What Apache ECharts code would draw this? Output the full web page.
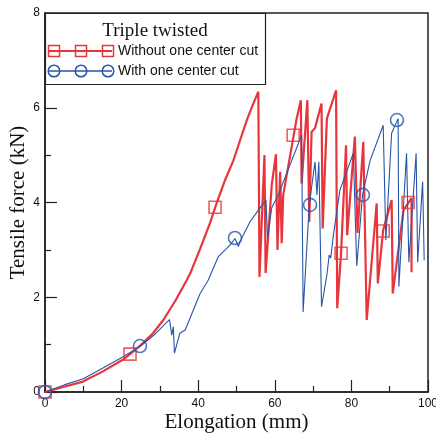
<!DOCTYPE html>
<html>
<head>
<meta charset="utf-8">
<script src="https://cdn.jsdelivr.net/npm/echarts@6/dist/echarts.min.js"></script>
<style>html,body{margin:0;padding:0;background:#fff}#c{width:436px;height:434px}</style>
</head>
<body>
<div id="c"></div>
<script>
// ---- data ----
const xTicks = [0, 20, 40, 60, 80, 100];
const yTicks = [0, 2, 4, 6, 8];

const redElong = [0, 5.0, 9.9, 15.0, 20.3, 22.2, 25.0, 28.2, 30.9, 34.0, 37.0, 37.9, 40.5, 43.1, 44.8, 47.0, 49.2, 51.0, 52.7, 54.2, 55.7,
  56.0, 57.3, 57.6, 59.2, 60.3, 60.7, 61.4, 61.8, 62.2, 65.7, 66.8, 67.0, 68.5, 69.0, 69.6, 70.5,
  72.2, 72.5, 73.6, 76.0, 76.3, 77.3, 78.6, 78.9, 80.9, 81.6, 83.1, 84.0, 86.6, 86.9, 88.3, 90.5,
  90.8, 93.6, 95.7, 95.7];
const redForce = [0, 0.11, 0.22, 0.43, 0.68, 0.80, 0.99, 1.24, 1.52, 1.92, 2.36, 2.50, 3.02, 3.57, 3.98, 4.47, 4.89, 5.33, 5.74, 6.05, 6.34,
  2.43, 5.00, 2.51, 4.37, 5.02, 3.00, 4.65, 3.14, 4.16, 5.77, 6.16, 4.40, 6.16, 3.59, 5.49, 5.57,
  6.09, 3.45, 5.77, 6.37, 1.77, 2.93, 5.21, 3.31, 5.39, 3.36, 5.28, 1.52, 3.98, 2.29, 3.42, 4.05,
  2.08, 3.84, 4.09, 2.53];

const blueElong = [0, 5.0, 10.0, 15.0, 20.3, 24.8, 28.7, 32.5, 33.1, 33.5, 33.8, 35.2, 36.6, 40.5, 42.6, 45.2,
  48.3, 49.6, 50.5, 50.9, 53.5, 56.1, 57.7, 58.1, 59.2, 60.9, 67.0, 67.4, 69.0, 70.5, 71.0, 71.5,
  72.2, 73.6, 74.2, 74.6, 75.3, 77.0, 80.5, 80.9, 81.4, 82.9, 84.9, 88.3, 89.0, 90.5, 92.2, 92.4,
  94.4, 95.0, 96.9, 97.3, 98.6, 99.0];
const blueForce = [0, 0.15, 0.28, 0.50, 0.74, 0.96, 1.22, 1.53, 1.20, 1.38, 0.82, 1.24, 1.31, 2.08, 2.36, 2.85,
  3.10, 3.24, 3.07, 3.17, 3.59, 3.88, 4.05, 3.24, 3.89, 4.16, 5.42, 1.69, 3.95, 4.86, 4.16, 4.86,
  1.80, 2.47, 2.89, 2.83, 3.31, 4.26, 5.04, 5.07, 2.66, 4.16, 4.89, 5.63, 3.21, 5.46, 5.77, 2.22,
  5.04, 2.74, 5.04, 2.74, 4.44, 2.78];

const redMarkElong = [0, 22.2, 44.4, 64.8, 77.3, 88.3, 94.8];
const redMarkForce = [0, 0.80, 3.90, 5.42, 2.93, 3.40, 4.00];
const blueMarkElong = [0, 24.8, 49.6, 69.2, 83.0, 91.9];
const blueMarkForce = [0, 0.97, 3.25, 3.95, 4.16, 5.74];

const seriesNames = ['Without one center cut', 'With one center cut'];
const legendTitle = 'Triple twisted';

// ---- styles ----
const RED = '#e8353c';
const BLUE = '#2656a8';
const zip = (a, b) => a.map((v, i) => [v, b[i]]);

const chart = echarts.init(document.getElementById('c'), null, {renderer: 'canvas'});
const axisCommon = {
  axisLine: {show: true, lineStyle: {color: '#222', width: 1.5}},
  axisTick: {show: true, inside: true, length: 12, lineStyle: {color: '#222', width: 1.2}},
  minorTick: {show: true, splitNumber: 2, length: 6, lineStyle: {color: '#222', width: 1.2}},
  splitLine: {show: false},
  minorSplitLine: {show: false},
  axisLabel: {color: '#111', fontFamily: 'Liberation Sans', fontSize: 12},
  nameLocation: 'middle',
  nameMoveOverlap: false,
  nameTextStyle: {fontFamily: 'Liberation Serif', fontSize: 21, color: '#111'}
};

const lx = 45, ly = 13;
chart.setOption({
  animation: false,
  backgroundColor: '#fff',
  grid: {left: 45, right: 8, top: 13, bottom: 42, show: true, borderColor: '#222', borderWidth: 1.5,
    containLabel: false, outerBoundsMode: 'none'},
  xAxis: Object.assign({}, axisCommon, {
    type: 'value', min: xTicks[0], max: xTicks[xTicks.length - 1], interval: xTicks[1] - xTicks[0],
    name: 'Elongation (mm)', nameGap: 20,
    axisLabel: Object.assign({}, axisCommon.axisLabel, {margin: 6})
  }),
  yAxis: Object.assign({}, axisCommon, {
    type: 'value', min: yTicks[0], max: yTicks[yTicks.length - 1], interval: yTicks[1] - yTicks[0],
    name: 'Tensile force (kN)', nameGap: 16,
    axisLabel: Object.assign({}, axisCommon.axisLabel, {margin: 5})
  }),
  series: [
    {name: seriesNames[0], type: 'line', data: zip(redElong, redForce), showSymbol: false, symbol: 'none',
      lineStyle: {color: RED, width: 2.2}, itemStyle: {color: RED}, z: 2},
    {name: seriesNames[1], type: 'line', data: zip(blueElong, blueForce), showSymbol: false, symbol: 'none',
      lineStyle: {color: BLUE, width: 1.1}, itemStyle: {color: BLUE}, z: 3},
    {name: seriesNames[0] + ' markers', type: 'scatter', data: zip(redMarkElong, redMarkForce), symbol: 'rect',
      symbolSize: 12, clip: false, itemStyle: {color: 'rgba(0,0,0,0)', borderColor: RED, borderWidth: 1.6}, z: 4},
    {name: seriesNames[1] + ' markers', type: 'scatter', data: zip(blueMarkElong, blueMarkForce), symbol: 'circle',
      symbolSize: 13, clip: false, itemStyle: {color: 'rgba(0,0,0,0)', borderColor: BLUE, borderWidth: 1.6}, z: 5}
  ],
  graphic: [
    {type: 'rect', shape: {x: lx + 0.5, y: ly + 0.5, width: 220, height: 71},
      style: {fill: '#fff', stroke: '#222', lineWidth: 1.2}, z: 100},
    {type: 'text', x: 155, y: 31, z: 101,
      style: {text: legendTitle, font: '19px "Liberation Serif"', fill: '#111', align: 'center', verticalAlign: 'middle'}},
    {type: 'line', shape: {x1: 49, y1: 51, x2: 112, y2: 51}, style: {stroke: RED, lineWidth: 2}, z: 101},
    {type: 'rect', shape: {x: 48.5, y: 45.5, width: 11, height: 11}, style: {fill: 'none', stroke: RED, lineWidth: 1.5}, z: 102},
    {type: 'rect', shape: {x: 75.5, y: 45.5, width: 11, height: 11}, style: {fill: 'none', stroke: RED, lineWidth: 1.5}, z: 102},
    {type: 'rect', shape: {x: 102.5, y: 45.5, width: 11, height: 11}, style: {fill: 'none', stroke: RED, lineWidth: 1.5}, z: 102},
    {type: 'text', x: 118, y: 51.5, z: 101,
      style: {text: seriesNames[0], font: '14px "Liberation Sans"', fill: '#111', align: 'left', verticalAlign: 'middle'}},
    {type: 'line', shape: {x1: 49, y1: 71, x2: 112, y2: 71}, style: {stroke: BLUE, lineWidth: 1.3}, z: 101},
    {type: 'circle', shape: {cx: 54, cy: 71, r: 5.8}, style: {fill: 'none', stroke: BLUE, lineWidth: 1.5}, z: 102},
    {type: 'circle', shape: {cx: 81, cy: 71, r: 5.8}, style: {fill: 'none', stroke: BLUE, lineWidth: 1.5}, z: 102},
    {type: 'circle', shape: {cx: 108, cy: 71, r: 5.8}, style: {fill: 'none', stroke: BLUE, lineWidth: 1.5}, z: 102},
    {type: 'text', x: 118, y: 71.5, z: 101,
      style: {text: seriesNames[1], font: '14px "Liberation Sans"', fill: '#111', align: 'left', verticalAlign: 'middle'}}
  ]
});
</script>
</body>
</html>
